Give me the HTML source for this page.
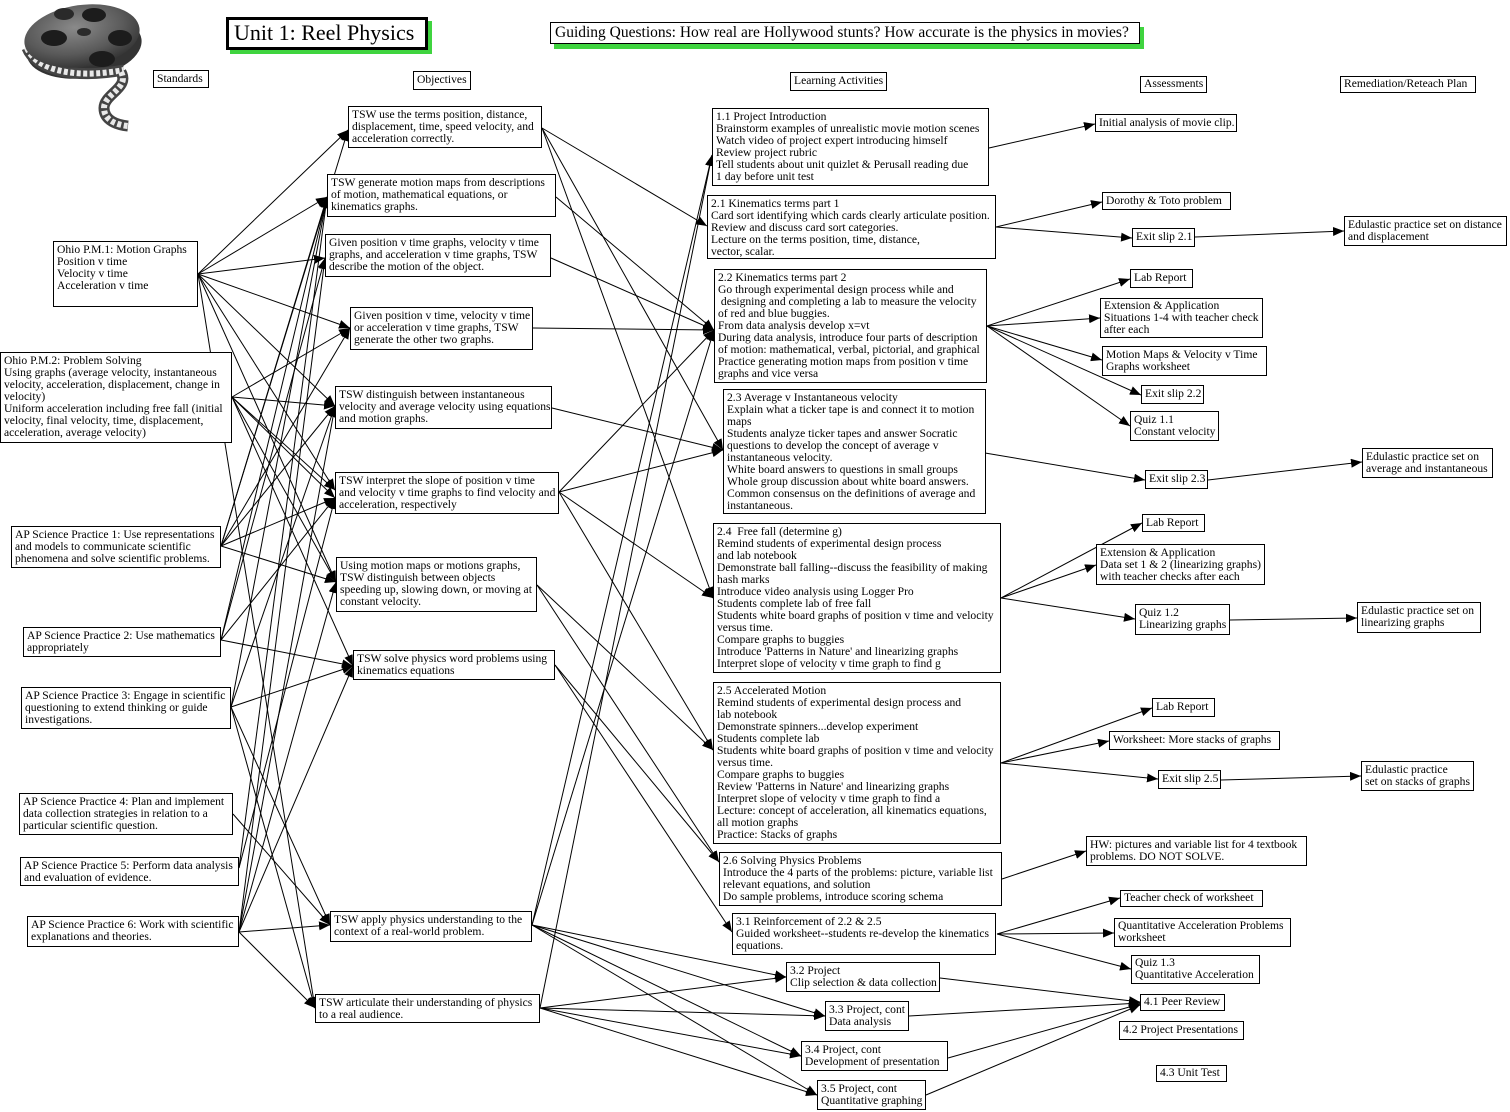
<!DOCTYPE html>
<html>
<head>
<meta charset="utf-8">
<style>
  html,body{margin:0;padding:0;background:#fff;}
  #wrap{position:relative;width:1510px;height:1112px;overflow:hidden;background:#fff;}
  svg.lines{position:absolute;left:0;top:0;}
  .b{position:absolute;border:1px solid #000;background:#fff;box-sizing:border-box;padding:2px 3px;
     font-family:"Liberation Serif",serif;font-size:11.6px;line-height:12px;white-space:nowrap;color:#000;}
  .title{position:absolute;left:226px;top:17px;width:202px;height:33px;box-sizing:border-box;border:3px solid #000;
     background:#fff;box-shadow:4px 4px 0 #3fd43f;font-family:"Liberation Serif",serif;font-size:22px;line-height:26px;
     padding:0 0 0 5px;white-space:nowrap;}
  .guide{position:absolute;left:550px;top:22px;width:590px;height:22px;box-sizing:border-box;border:1.5px solid #000;
     background:#fff;box-shadow:4px 5px 0 #3fd43f;font-family:"Liberation Serif",serif;font-size:15.5px;line-height:19px;
     padding:0 0 0 4px;white-space:nowrap;}
</style>
</head>
<body>
<div id="wrap">

<!-- film reel -->
<svg style="position:absolute;left:0;top:0" width="160" height="140" viewBox="0 0 160 140">
  <defs>
    <radialGradient id="rg" cx="0.45" cy="0.35" r="0.7">
      <stop offset="0" stop-color="#8a8a8a"/>
      <stop offset="0.6" stop-color="#5a5a5a"/>
      <stop offset="1" stop-color="#2e2e2e"/>
    </radialGradient>
  </defs>
  <ellipse cx="84" cy="47" rx="58" ry="31" fill="#333" transform="rotate(-8 84 47)"/>
  <path d="M27,48 C35,68 70,80 124,70" fill="none" stroke="#444" stroke-width="11"/>
  <path d="M27,48 C35,68 70,80 124,70" fill="none" stroke="#e8e8e8" stroke-width="6" stroke-dasharray="4 2.5"/>
  <ellipse cx="82" cy="36" rx="58" ry="31" fill="url(#rg)" transform="rotate(-8 82 36)"/>
  <ellipse cx="54" cy="38" rx="13" ry="8" fill="#1c1c1c"/>
  <ellipse cx="94" cy="15" rx="12" ry="7" fill="#1c1c1c"/>
  <ellipse cx="120" cy="38" rx="12" ry="8" fill="#1c1c1c"/>
  <ellipse cx="102" cy="59" rx="13" ry="8" fill="#1c1c1c"/>
  <ellipse cx="64" cy="14" rx="10" ry="6" fill="#2a2a2a"/>
  <ellipse cx="84" cy="32" rx="7" ry="4" fill="#2a2a2a"/>
  <path d="M121,72 C130,88 104,94 104,108 C104,121 118,125 128,126" fill="none" stroke="#444" stroke-width="11"/>
  <path d="M121,72 C130,88 104,94 104,108 C104,121 118,125 128,126" fill="none" stroke="#e8e8e8" stroke-width="6" stroke-dasharray="4 2.5"/>
</svg>

<svg class="lines" width="1510" height="1112" viewBox="0 0 1510 1112">
  <defs>
    <marker id="a" markerWidth="11" markerHeight="9" refX="11" refY="4.5" orient="auto" markerUnits="userSpaceOnUse">
      <path d="M0,0 L11,4.5 L0,9 z" fill="#000"/>
    </marker>
  </defs>
  <g stroke="#000" stroke-width="1" fill="none" marker-end="url(#a)">
    <!-- PM1 -->
    <line x1="198" y1="274" x2="348" y2="130"/>
    <line x1="198" y1="274" x2="327" y2="197"/>
    <line x1="198" y1="274" x2="325" y2="258"/>
    <line x1="198" y1="274" x2="350" y2="328"/>
    <line x1="198" y1="274" x2="335" y2="406"/>
    <line x1="198" y1="274" x2="335" y2="490"/>
    <line x1="198" y1="274" x2="336" y2="582"/>
    <line x1="198" y1="274" x2="315" y2="1008"/>
    <!-- PM2 -->
    <line x1="232" y1="397" x2="350" y2="328"/>
    <line x1="232" y1="397" x2="335" y2="406"/>
    <line x1="232" y1="397" x2="335" y2="490"/>
    <line x1="232" y1="397" x2="335" y2="498"/>
    <line x1="232" y1="397" x2="336" y2="582"/>
    <line x1="232" y1="397" x2="353" y2="666"/>
    <!-- AP1 -->
    <line x1="221" y1="546" x2="348" y2="130"/>
    <line x1="221" y1="546" x2="327" y2="197"/>
    <line x1="221" y1="546" x2="350" y2="328"/>
    <line x1="221" y1="546" x2="335" y2="406"/>
    <line x1="221" y1="546" x2="335" y2="498"/>
    <line x1="221" y1="546" x2="336" y2="582"/>
    <!-- AP2 -->
    <line x1="221" y1="640" x2="327" y2="197"/>
    <line x1="221" y1="640" x2="325" y2="258"/>
    <line x1="221" y1="640" x2="335" y2="498"/>
    <line x1="221" y1="640" x2="353" y2="666"/>
    <!-- AP3 -->
    <line x1="231" y1="707" x2="327" y2="197"/>
    <line x1="231" y1="707" x2="335" y2="406"/>
    <line x1="231" y1="707" x2="353" y2="666"/>
    <line x1="231" y1="707" x2="330" y2="925"/>
    <line x1="231" y1="707" x2="315" y2="1008"/>
    <!-- AP4 -->
    <line x1="233" y1="814" x2="330" y2="925"/>
    <!-- AP5 -->
    <line x1="239" y1="868" x2="327" y2="197"/>
    <line x1="239" y1="868" x2="335" y2="498"/>
    <!-- AP6 -->
    <line x1="239" y1="932" x2="325" y2="258"/>
    <line x1="239" y1="932" x2="335" y2="406"/>
    <line x1="239" y1="932" x2="336" y2="582"/>
    <line x1="239" y1="932" x2="353" y2="666"/>
    <line x1="239" y1="932" x2="330" y2="925"/>
    <line x1="239" y1="932" x2="315" y2="1008"/>

    <!-- Objectives -> Activities -->
    <line x1="542" y1="128" x2="707" y2="226"/>
    <line x1="542" y1="128" x2="723" y2="450"/>
    <line x1="542" y1="128" x2="713" y2="598"/>
    <line x1="556" y1="197" x2="714" y2="330"/>
    <line x1="551" y1="258" x2="714" y2="330"/>
    <line x1="533" y1="328" x2="714" y2="330"/>
    <line x1="552" y1="408" x2="723" y2="450"/>
    <line x1="559" y1="492" x2="714" y2="330"/>
    <line x1="559" y1="492" x2="723" y2="450"/>
    <line x1="559" y1="492" x2="713" y2="598"/>
    <line x1="559" y1="492" x2="713" y2="750"/>
    <line x1="537" y1="585" x2="713" y2="750"/>
    <line x1="537" y1="585" x2="719" y2="862"/>
    <line x1="555" y1="665" x2="719" y2="862"/>
    <line x1="555" y1="665" x2="732" y2="932"/>
    <line x1="532" y1="925" x2="712" y2="155"/>
    <line x1="532" y1="925" x2="714" y2="330"/>
    <line x1="532" y1="925" x2="786" y2="977"/>
    <line x1="532" y1="925" x2="825" y2="1016"/>
    <line x1="532" y1="925" x2="801" y2="1056"/>
    <line x1="532" y1="925" x2="817" y2="1095"/>
    <line x1="540" y1="1008" x2="712" y2="155"/>
    <line x1="540" y1="1008" x2="786" y2="977"/>
    <line x1="540" y1="1008" x2="825" y2="1016"/>
    <line x1="540" y1="1008" x2="801" y2="1056"/>
    <line x1="540" y1="1008" x2="817" y2="1095"/>

    <!-- Activities -> Assessments -->
    <line x1="989" y1="148" x2="1095" y2="124"/>
    <line x1="996" y1="227" x2="1102" y2="202"/>
    <line x1="996" y1="227" x2="1132" y2="238"/>
    <line x1="1195" y1="237" x2="1344" y2="231"/>
    <line x1="987" y1="326" x2="1130" y2="279"/>
    <line x1="987" y1="326" x2="1100" y2="318"/>
    <line x1="987" y1="326" x2="1102" y2="360"/>
    <line x1="987" y1="326" x2="1141" y2="395"/>
    <line x1="987" y1="326" x2="1130" y2="426"/>
    <line x1="985" y1="453" x2="1145" y2="480"/>
    <line x1="1208" y1="480" x2="1362" y2="462"/>
    <line x1="1001" y1="598" x2="1142" y2="523"/>
    <line x1="1001" y1="598" x2="1096" y2="565"/>
    <line x1="1001" y1="598" x2="1135" y2="619"/>
    <line x1="1230" y1="620" x2="1357" y2="618"/>
    <line x1="1001" y1="763" x2="1152" y2="708"/>
    <line x1="1001" y1="763" x2="1109" y2="741"/>
    <line x1="1001" y1="763" x2="1158" y2="779"/>
    <line x1="1221" y1="780" x2="1361" y2="776"/>
    <line x1="1002" y1="879" x2="1086" y2="851"/>
    <line x1="997" y1="934" x2="1120" y2="898"/>
    <line x1="997" y1="934" x2="1114" y2="933"/>
    <line x1="997" y1="934" x2="1131" y2="969"/>
    <line x1="940" y1="978" x2="1140" y2="1002"/>
    <line x1="909" y1="1016" x2="1140" y2="1003"/>
    <line x1="948" y1="1058" x2="1140" y2="1004"/>
    <line x1="926" y1="1095" x2="1140" y2="1005"/>
  </g>
</svg>

<!-- titles -->
<div class="title">Unit 1: Reel Physics</div>
<div class="guide">Guiding Questions: How real are Hollywood stunts? How accurate is the physics in movies?</div>

<!-- headers -->
<div class="b" style="left:153px;top:70px;width:56px;height:18px;">Standards</div>
<div class="b" style="left:413px;top:71px;width:58px;height:19px;">Objectives</div>
<div class="b" style="left:790px;top:72px;width:97px;height:19px;">Learning Activities</div>
<div class="b" style="left:1140px;top:76px;width:67px;height:17px;padding-top:1px;">Assessments</div>
<div class="b" style="left:1340px;top:76px;width:136px;height:17px;padding-top:1px;">Remediation/Reteach Plan</div>

<!-- standards -->
<div class="b" style="left:53px;top:241px;width:145px;height:66px;">Ohio P.M.1: Motion Graphs<br>Position v time<br>Velocity v time<br>Acceleration v time</div>
<div class="b" style="left:0px;top:352px;width:232px;height:91px;">Ohio P.M.2: Problem Solving<br>Using graphs (average velocity, instantaneous<br>velocity, acceleration, displacement, change in<br>velocity)<br>Uniform acceleration including free fall (initial<br>velocity, final velocity, time, displacement,<br>acceleration, average velocity)</div>
<div class="b" style="left:11px;top:526px;width:210px;height:42px;">AP Science Practice 1: Use representations<br>and models to communicate scientific<br>phenomena and solve scientific problems.</div>
<div class="b" style="left:23px;top:627px;width:198px;height:30px;">AP Science Practice 2: Use mathematics<br>appropriately</div>
<div class="b" style="left:21px;top:687px;width:210px;height:42px;">AP Science Practice 3: Engage in scientific<br>questioning to extend thinking or guide<br>investigations.</div>
<div class="b" style="left:19px;top:793px;width:214px;height:42px;">AP Science Practice 4: Plan and implement<br>data collection strategies in relation to a<br>particular scientific question.</div>
<div class="b" style="left:20px;top:857px;width:219px;height:29px;">AP Science Practice 5: Perform data analysis<br>and evaluation of evidence.</div>
<div class="b" style="left:27px;top:916px;width:212px;height:31px;">AP Science Practice 6: Work with scientific<br>explanations and theories.</div>

<!-- objectives -->
<div class="b" style="left:348px;top:106px;width:194px;height:42px;">TSW use the terms position, distance,<br>displacement, time, speed velocity, and<br>acceleration correctly.</div>
<div class="b" style="left:327px;top:174px;width:229px;height:43px;">TSW generate motion maps from descriptions<br>of motion, mathematical equations, or<br>kinematics graphs.</div>
<div class="b" style="left:325px;top:234px;width:226px;height:43px;">Given position v time graphs, velocity v time<br>graphs, and acceleration v time graphs, TSW<br>describe the motion of the object.</div>
<div class="b" style="left:350px;top:307px;width:183px;height:43px;">Given position v time, velocity v time<br>or acceleration v time graphs, TSW<br>generate the other two graphs.</div>
<div class="b" style="left:335px;top:386px;width:217px;height:43px;">TSW distinguish between instantaneous<br>velocity and average velocity using equations<br>and motion graphs.</div>
<div class="b" style="left:335px;top:472px;width:224px;height:42px;">TSW interpret the slope of position v time<br>and velocity v time graphs to find velocity and<br>acceleration, respectively</div>
<div class="b" style="left:336px;top:557px;width:201px;height:55px;">Using motion maps or motions graphs,<br>TSW distinguish between objects<br>speeding up, slowing down, or moving at<br>constant velocity.</div>
<div class="b" style="left:353px;top:650px;width:202px;height:30px;">TSW solve physics word problems using<br>kinematics equations</div>
<div class="b" style="left:330px;top:911px;width:202px;height:31px;">TSW apply physics understanding to the<br>context of a real-world problem.</div>
<div class="b" style="left:315px;top:994px;width:225px;height:29px;">TSW articulate their understanding of physics<br>to a real audience.</div>

<!-- activities -->
<div class="b" style="left:712px;top:108px;width:277px;height:78px;">1.1 Project Introduction<br>Brainstorm examples of unrealistic movie motion scenes<br>Watch video of project expert introducing himself<br>Review project rubric<br>Tell students about unit quizlet &amp; Perusall reading due<br>1 day before unit test</div>
<div class="b" style="left:707px;top:195px;width:289px;height:64px;">2.1 Kinematics terms part 1<br>Card sort identifying which cards clearly articulate position.<br>Review and discuss card sort categories.<br>Lecture on the terms position, time, distance,<br>vector, scalar.</div>
<div class="b" style="left:714px;top:269px;width:273px;height:114px;">2.2 Kinematics terms part 2<br>Go through experimental design process while and<br>&nbsp;designing and completing a lab to measure the velocity<br>of red and blue buggies.<br>From data analysis develop x=vt<br>During data analysis, introduce four parts of description<br>of motion: mathematical, verbal, pictorial, and graphical<br>Practice generating motion maps from position v time<br>graphs and vice versa</div>
<div class="b" style="left:723px;top:389px;width:263px;height:125px;">2.3 Average v Instantaneous velocity<br>Explain what a ticker tape is and connect it to motion<br>maps<br>Students analyze ticker tapes and answer Socratic<br>questions to develop the concept of average v<br>instantaneous velocity.<br>White board answers to questions in small groups<br>Whole group discussion about white board answers.<br>Common consensus on the definitions of average and<br>instantaneous.</div>
<div class="b" style="left:713px;top:523px;width:288px;height:150px;">2.4&nbsp; Free fall (determine g)<br>Remind students of experimental design process<br>and lab notebook<br>Demonstrate ball falling--discuss the feasibility of making<br>hash marks<br>Introduce video analysis using Logger Pro<br>Students complete lab of free fall<br>Students white board graphs of position v time and velocity<br>versus time.<br>Compare graphs to buggies<br>Introduce 'Patterns in Nature' and linearizing graphs<br>Interpret slope of velocity v time graph to find g</div>
<div class="b" style="left:713px;top:682px;width:288px;height:162px;">2.5 Accelerated Motion<br>Remind students of experimental design process and<br>lab notebook<br>Demonstrate spinners...develop experiment<br>Students complete lab<br>Students white board graphs of position v time and velocity<br>versus time.<br>Compare graphs to buggies<br>Review 'Patterns in Nature' and linearizing graphs<br>Interpret slope of velocity v time graph to find a<br>Lecture: concept of acceleration, all kinematics equations,<br>all motion graphs<br>Practice: Stacks of graphs</div>
<div class="b" style="left:719px;top:852px;width:283px;height:54px;">2.6 Solving Physics Problems<br>Introduce the 4 parts of the problems: picture, variable list<br>relevant equations, and solution<br>Do sample problems, introduce scoring schema</div>
<div class="b" style="left:732px;top:913px;width:264px;height:42px;">3.1 Reinforcement of 2.2 &amp; 2.5<br>Guided worksheet--students re-develop the kinematics<br>equations.</div>
<div class="b" style="left:786px;top:962px;width:154px;height:30px;">3.2 Project<br>Clip selection &amp; data collection</div>
<div class="b" style="left:825px;top:1001px;width:84px;height:30px;">3.3 Project, cont<br>Data analysis</div>
<div class="b" style="left:801px;top:1041px;width:147px;height:30px;">3.4 Project, cont<br>Development of presentation</div>
<div class="b" style="left:817px;top:1080px;width:109px;height:30px;">3.5 Project, cont<br>Quantitative graphing</div>

<!-- assessments -->
<div class="b" style="left:1095px;top:114px;width:142px;height:18px;">Initial analysis of movie clip.</div>
<div class="b" style="left:1102px;top:192px;width:129px;height:18px;">Dorothy &amp; Toto problem</div>
<div class="b" style="left:1132px;top:228px;width:63px;height:19px;">Exit slip 2.1</div>
<div class="b" style="left:1344px;top:216px;width:163px;height:30px;">Edulastic practice set on distance<br>and displacement</div>
<div class="b" style="left:1130px;top:269px;width:63px;height:19px;">Lab Report</div>
<div class="b" style="left:1100px;top:298px;width:163px;height:40px;padding-top:1px;">Extension &amp; Application<br>Situations 1-4 with teacher check<br>after each</div>
<div class="b" style="left:1102px;top:346px;width:165px;height:30px;">Motion Maps &amp; Velocity v Time<br>Graphs worksheet</div>
<div class="b" style="left:1141px;top:385px;width:63px;height:19px;">Exit slip 2.2</div>
<div class="b" style="left:1130px;top:411px;width:89px;height:30px;">Quiz 1.1<br>Constant velocity</div>
<div class="b" style="left:1145px;top:470px;width:63px;height:19px;">Exit slip 2.3</div>
<div class="b" style="left:1362px;top:448px;width:131px;height:30px;">Edulastic practice set on<br>average and instantaneous</div>
<div class="b" style="left:1142px;top:514px;width:63px;height:18px;">Lab Report</div>
<div class="b" style="left:1096px;top:544px;width:169px;height:41px;">Extension &amp; Application<br>Data set 1 &amp; 2 (linearizing graphs)<br>with teacher checks after each</div>
<div class="b" style="left:1135px;top:604px;width:95px;height:31px;">Quiz 1.2<br>Linearizing graphs</div>
<div class="b" style="left:1357px;top:602px;width:124px;height:31px;">Edulastic practice set on<br>linearizing graphs</div>
<div class="b" style="left:1152px;top:698px;width:63px;height:19px;">Lab Report</div>
<div class="b" style="left:1109px;top:731px;width:171px;height:19px;">Worksheet: More stacks of graphs</div>
<div class="b" style="left:1158px;top:770px;width:63px;height:19px;">Exit slip 2.5</div>
<div class="b" style="left:1361px;top:761px;width:113px;height:30px;">Edulastic practice<br>set on stacks of graphs</div>
<div class="b" style="left:1086px;top:836px;width:221px;height:30px;">HW: pictures and variable list for 4 textbook<br>problems. DO NOT SOLVE.</div>
<div class="b" style="left:1120px;top:890px;width:143px;height:17px;padding-top:1px;">Teacher check of worksheet</div>
<div class="b" style="left:1114px;top:918px;width:177px;height:29px;padding-top:1px;">Quantitative Acceleration Problems<br>worksheet</div>
<div class="b" style="left:1131px;top:955px;width:129px;height:29px;padding-top:1px;">Quiz 1.3<br>Quantitative Acceleration</div>
<div class="b" style="left:1140px;top:994px;width:85px;height:17px;padding-top:1px;">4.1 Peer Review</div>
<div class="b" style="left:1119px;top:1021px;width:125px;height:19px;">4.2 Project Presentations</div>
<div class="b" style="left:1156px;top:1065px;width:71px;height:17px;padding-top:1px;">4.3 Unit Test</div>

</div>
</body>
</html>
